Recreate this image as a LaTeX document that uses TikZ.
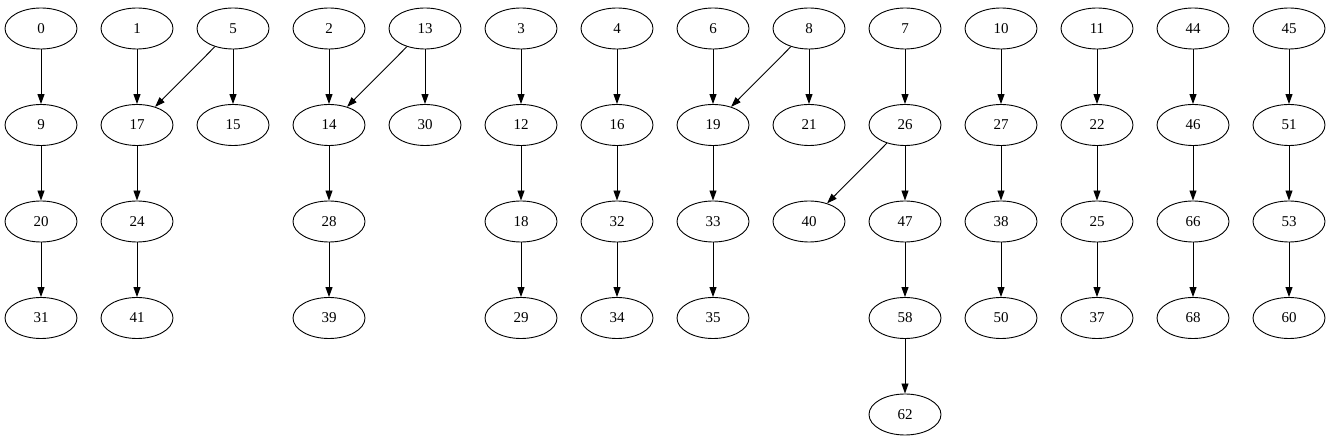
\documentclass[tikz,border=0pt]{standalone}
\usepackage{fontspec}
\setmainfont{Liberation Serif}
\usepackage{tikz}
\usetikzlibrary{arrows.meta,shapes}
\tikzstyle{vertex}=[ellipse,draw=black,fill=white,line width=0.9pt,minimum width=72pt,minimum height=41pt,inner sep=0pt,font=\fontsize{15}{17}\selectfont]
\tikzstyle{edge} = [draw,line width=0.9pt,-{Triangle[length=10pt,width=7pt]}]

\begin{document}
\begin{tikzpicture}[x=1pt,y=-1pt]

  \useasboundingbox (0,0) rectangle (1331,443);
  \def\dx{41};
  \def\dy{28.5};
  \def\u{96};
  \def\v{96.5};

   \foreach \x/\y/\name in {0/0/0, 0/1/9, 0/2/20, 0/3/31, 1/0/1, 1/1/17, 1/2/24, 1/3/41, 2/0/5, 2/1/15}
          \node[vertex] (n\name) at (\x*\u+\dx, \y*\v+\dy) {\name};

   \foreach \x/\y/\name in {3/0/2, 3/1/14, 3/2/28, 3/3/39, 4/0/13, 4/1/30, 5/0/3, 5/1/12, 5/2/18, 5/3/29}
          \node[vertex] (n\name) at (\x*\u+\dx, \y*\v+\dy) {\name};

   \foreach \x/\y/\name in {6/0/4, 6/1/16, 6/2/32, 6/3/34, 7/0/6, 7/1/19, 7/2/33, 7/3/35, 8/0/8, 8/1/21, 8/2/40}
          \node[vertex] (n\name) at (\x*\u+\dx, \y*\v+\dy) {\name};

   \foreach \x/\y/\name in {9/0/7, 9/1/26, 9/2/47, 9/3/58, 9/4/62, 10/0/10, 10/1/27, 10/2/38, 10/3/50}
          \node[vertex] (n\name) at (\x*\u+\dx, \y*\v+\dy) {\name};

   \foreach \x/\y/\name in {11/0/11, 11/1/22, 11/2/25, 11/3/37, 12/0/44, 12/1/46, 12/2/66, 12/3/68, 13/0/45, 13/1/51, 13/2/53, 13/3/60}
          \node[vertex] (n\name) at (\x*\u+\dx, \y*\v+\dy) {\name};

  \foreach \source/ \dest in {0/9, 9/20, 20/31, 1/17, 5/17, 5/15, 17/24, 24/41, 2/14, 13/14, 13/30, 14/28, 28/39}
         \path[edge] (n\source) -- (n\dest);

  \foreach \source/ \dest in {3/12, 12/18, 18/29, 4/16, 16/32, 32/34, 6/19, 8/19, 8/21, 19/33, 33/35}
         \path[edge] (n\source) -- (n\dest);

  \foreach \source/ \dest in {7/26, 26/40, 26/47, 47/58, 58/62, 10/27, 27/38, 38/50, 11/22, 22/25, 25/37}
         \path[edge] (n\source) -- (n\dest);

  \foreach \source/ \dest in {44/46, 46/66, 66/68, 45/51, 51/53, 53/60}
         \path[edge] (n\source) -- (n\dest);

\end{tikzpicture}
\end{document}
